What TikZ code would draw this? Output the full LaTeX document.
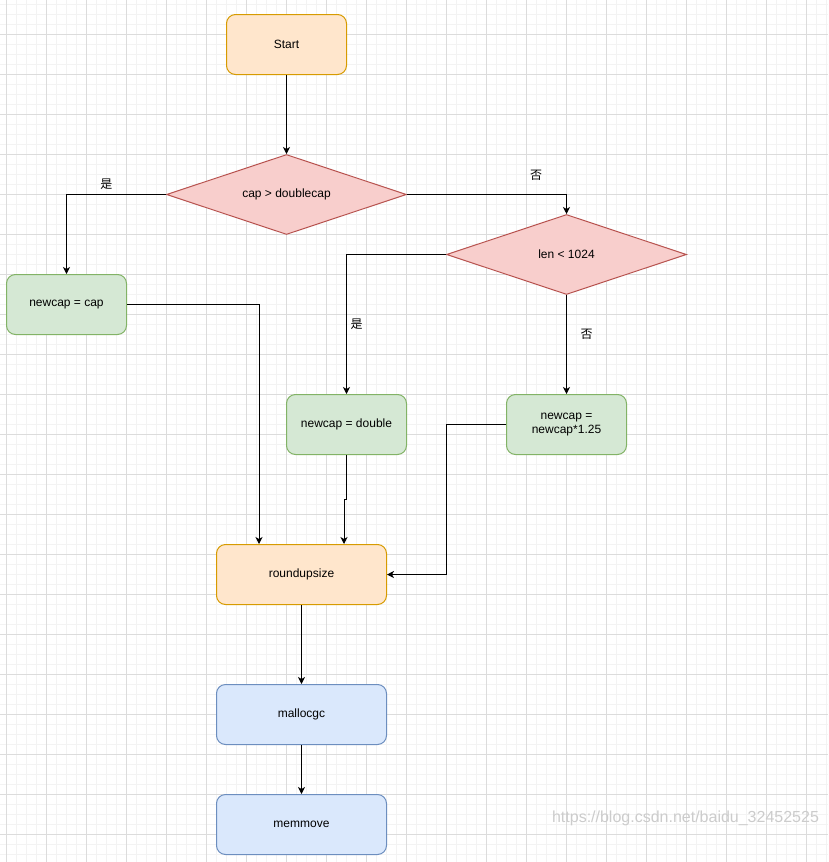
\documentclass[tikz,border=0pt]{standalone}
\usepackage{fontspec}
\setmainfont{Liberation Sans}
\newfontfamily\cjk{Noto Sans CJK SC}
\usetikzlibrary{arrows.meta,shapes.geometric}

% Colores del diagrama
\definecolor{naranjaR}{HTML}{FFE6CC}
\definecolor{naranjaB}{HTML}{D79B00}
\definecolor{rojoR}{HTML}{F8CECC}
\definecolor{rojoB}{HTML}{B85450}
\definecolor{verdeR}{HTML}{D5E8D4}
\definecolor{verdeB}{HTML}{82B366}
\definecolor{azulR}{HTML}{DAE8FC}
\definecolor{azulB}{HTML}{6C8EBF}
\definecolor{rejillaM}{HTML}{F3F3F3}
\definecolor{rejillaG}{HTML}{DCDCDC}

\begin{document}
\begin{tikzpicture}[x=1pt,y=-1pt,
    caja/.style={rectangle, rounded corners=9pt, minimum width=120pt, minimum height=60pt,
      align=center, line width=1pt, font=\fontsize{12}{14}\selectfont},
    naranja/.style={caja, fill=naranjaR, draw=naranjaB},
    verde/.style={caja, fill=verdeR, draw=verdeB},
    azul/.style={caja, fill=azulR, draw=azulB},
    rombo/.style={diamond, aspect=3, minimum width=240pt, minimum height=80pt, inner sep=1pt,
      fill=rojoR, draw=rojoB, line width=1pt, font=\fontsize{12}{14}\selectfont},
    flecha/.style={draw=black, line width=1pt, -{Stealth[length=7pt,width=7pt,inset=2pt]}},
    etiqueta/.style={font=\cjk\fontsize{12}{14}\selectfont, inner sep=0pt}]

    % Lienzo y rejilla de fondo
    \useasboundingbox (0,0) rectangle (828,862);
    \fill[white] (0,0) rectangle (828,862);
    \foreach \x in {6.7,16.7,...,828} \draw[rejillaM, line width=1pt] (\x,0) -- (\x,862);
    \foreach \y in {4.3,14.3,...,862} \draw[rejillaM, line width=1pt] (0,\y) -- (828,\y);
    \foreach \x in {6.7,46.7,...,828} \draw[rejillaG, line width=1pt] (\x,0) -- (\x,862);
    \foreach \y in {34.3,74.3,...,862} \draw[rejillaG, line width=1pt] (0,\y) -- (828,\y);

    % Nodos
    \node[naranja] (inicio) at (286.5,44.5) {Start};
    \node[rombo] (cond1) at (286.5,194.5) {cap > doublecap};
    \node[verde] (igual) at (66.5,304.5) {newcap = cap};
    \node[rombo] (cond2) at (566.5,254.5) {len < 1024};
    \node[verde] (doble) at (346.5,424.5) {newcap = double};
    \node[verde] (creci) at (566.5,424.5) {newcap =\\newcap*1.25};
    \node[naranja, minimum width=170pt] (redondeo) at (301.5,574.5) {roundupsize};
    \node[azul, minimum width=170pt] (reserva) at (301.5,714.5) {mallocgc};
    \node[azul, minimum width=170pt] (mover) at (301.5,824.5) {memmove};

    % Conexiones
    \draw[flecha] (inicio) -- (cond1);
    \draw[flecha] (cond1.west) -| (igual.north)
        node[etiqueta, pos=0.3, yshift=10.5pt] {是};
    \draw[flecha] (cond1.east) -| (cond2.north)
        node[etiqueta, pos=0.405, yshift=19.5pt] {否};
    \draw[flecha] (cond2.west) -| (doble.north)
        node[etiqueta, pos=0.75, xshift=10pt] {是};
    \draw[flecha] (cond2.south) -- (creci.north)
        node[etiqueta, pos=0.395, xshift=20pt] {否};
    \draw[flecha] (igual.east) -| ([xshift=-42.5pt]redondeo.north);
    \draw[flecha] (doble.south) -- ++(0,44.5) -| ([xshift=42.5pt]redondeo.north);
    \draw[flecha] (creci.west) -- ++(-60,0) |- (redondeo.east);
    \draw[flecha] (redondeo) -- (reserva);
    \draw[flecha] (reserva) -- (mover);

    % Marca de agua
    \node[font=\fontsize{16}{18}\selectfont, text=black!20, inner sep=0pt] (marca) at (685.5,818)
        {https://blog.csdn.net/baidu\_32452525};
\end{tikzpicture}
\end{document}
